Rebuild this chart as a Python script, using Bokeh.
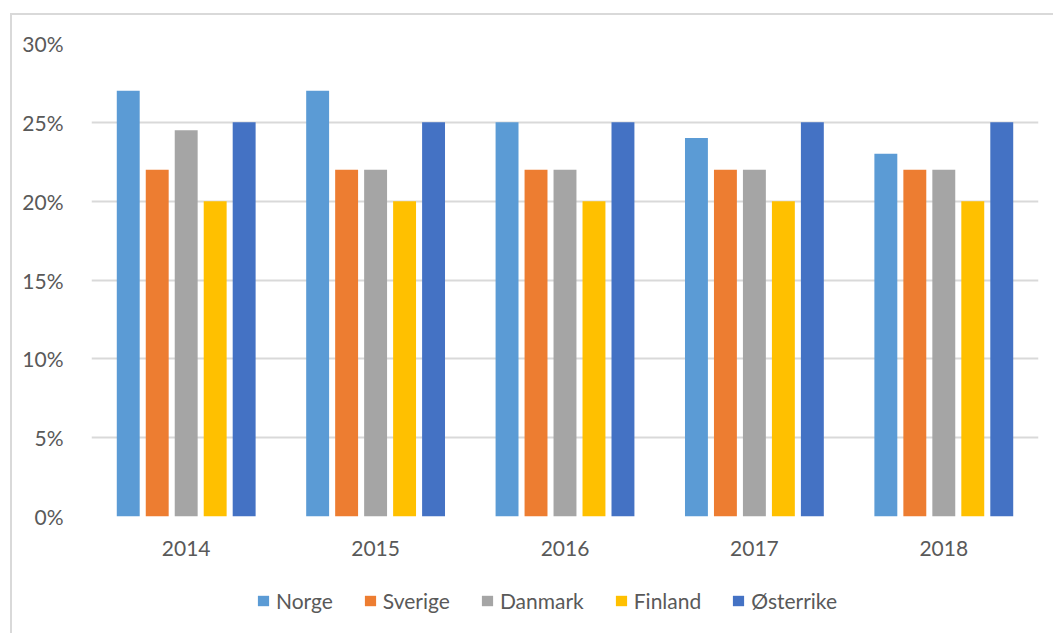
from bokeh.plotting import figure
from bokeh.layouts import column
from bokeh.models import (ColumnDataSource, FactorRange, Range1d, FixedTicker,
                          NumeralTickFormatter, Legend, LegendItem)
from bokeh.transform import dodge
from bokeh.embed import file_html
from bokeh.resources import INLINE

# Share per country and year, in percent
years = ["2014", "2015", "2016", "2017", "2018"]
norge = [27, 27, 25, 24, 23]
sverige = [22, 22, 22, 22, 22]
danmark = [24.5, 22, 22, 22, 22]
finland = [20, 20, 20, 20, 20]
osterrike = [25, 25, 25, 25, 25]

series_names = ["Norge", "Sverige", "Danmark", "Finland", "Østerrike"]
series_values = [norge, sverige, danmark, finland, osterrike]
series_colors = ["#5B9BD5", "#ED7D31", "#A5A5A5", "#FFC000", "#4472C4"]
y_ticks = [0, 5, 10, 15, 20, 25, 30]

data = {"year": years}
for i, vals in enumerate(series_values):
    data[f"s{i}"] = [v / 100 for v in vals]
source = ColumnDataSource(data)

FONT = "Lato"
TEXT_COLOR = "#595959"
GRID_COLOR = "#d9d9d9"

# Main bar chart
p = figure(
    x_range=FactorRange(factors=years, range_padding=0),
    y_range=Range1d(0, 0.30),
    width=1041, height=546,
    output_backend="svg", toolbar_location=None,
    min_border_left=79, min_border_right=15,
    min_border_top=28, min_border_bottom=45,
)
p.outline_line_color = None
p.background_fill_color = "white"
p.border_fill_color = "white"

step = 0.153
bar_w = 0.121
for i, color in enumerate(series_colors):
    p.vbar(x=dodge("year", (i - 2) * step, range=p.x_range), top=f"s{i}",
           width=bar_w, source=source, fill_color=color, line_color=None)

p.yaxis.ticker = FixedTicker(ticks=[t / 100 for t in y_ticks])
p.yaxis.formatter = NumeralTickFormatter(format="0%")
for ax in (p.xaxis[0], p.yaxis[0]):
    ax.axis_line_color = None
    ax.major_tick_line_color = None
    ax.minor_tick_line_color = None
    ax.major_label_text_font = FONT
    ax.major_label_text_font_size = "21px"
    ax.major_label_text_color = TEXT_COLOR
p.yaxis.major_label_standoff = 22
p.xaxis.major_label_standoff = 18

p.xgrid.grid_line_color = None
p.ygrid.grid_line_color = GRID_COLOR
p.ygrid.grid_line_width = 2

# Legend strip under the chart; its bars sit outside the visible range,
# only the legend swatches show
leg = figure(
    x_range=p.x_range, y_range=Range1d(1, 2),
    width=1041, height=72,
    output_backend="svg", toolbar_location=None,
    min_border=0, x_axis_location=None, y_axis_location=None,
)
leg.outline_line_color = None
leg.grid.grid_line_color = None
leg.border_fill_color = "white"

items = []
for i, (name, color) in enumerate(zip(series_names, series_colors)):
    r = leg.vbar(x=dodge("year", (i - 2) * step, range=leg.x_range), top=f"s{i}",
                 width=bar_w, source=source, fill_color=color, line_color=None)
    items.append(LegendItem(label=name, renderers=[r]))

legend = Legend(items=items, orientation="horizontal", location=(165, 20))
legend.label_text_font = FONT
legend.label_text_font_size = "21px"
legend.label_text_color = TEXT_COLOR
legend.glyph_width = 14
legend.glyph_height = 13
legend.label_standoff = 6
legend.spacing = 30
legend.padding = 0
legend.margin = 0
legend.border_line_color = None
legend.background_fill_alpha = 0
leg.add_layout(legend, "center")

layout = column(
    p, leg, spacing=0,
    margin=(13, 0, 0, 10),
    styles={"border-left": "2px solid #d9d9d9", "border-top": "2px solid #d9d9d9"},
)

open("out.html", "w").write(file_html(layout, INLINE))
